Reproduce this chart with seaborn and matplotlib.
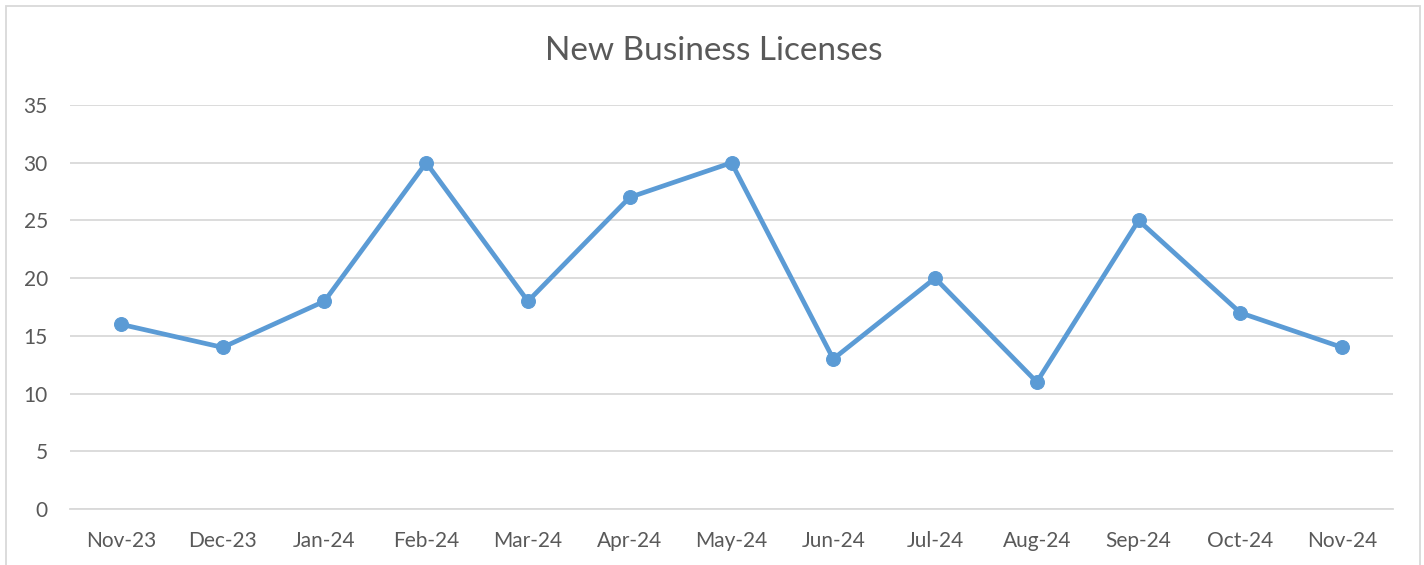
import matplotlib
matplotlib.use('Agg')
import matplotlib.pyplot as plt
import seaborn as sns
import pandas as pd
from matplotlib.patches import Rectangle

months = ['Nov-23', 'Dec-23', 'Jan-24', 'Feb-24', 'Mar-24', 'Apr-24', 'May-24',
          'Jun-24', 'Jul-24', 'Aug-24', 'Sep-24', 'Oct-24', 'Nov-24']
licenses = [16, 14, 18, 30, 18, 27, 30, 13, 20, 11, 25, 17, 14]
y_ticks = [0, 5, 10, 15, 20, 25, 30, 35]

df = pd.DataFrame({'Month': months, 'Licenses': licenses})
df['pos'] = range(len(months))

sns.set_style('white')
plt.rcParams['font.family'] = ['Lato', 'DejaVu Sans']

text_c = '#595959'
grid_c = '#D9D9D9'
line_c = '#5B9BD5'

fig = plt.figure(figsize=(14.24, 5.65), dpi=100)
ax = fig.add_axes([70 / 1424, 1 - 509 / 565, (1393 - 70) / 1424, (509 - 105) / 565])

sns.lineplot(data=df, x='pos', y='Licenses', ax=ax, color=line_c, linewidth=3.4,
             marker='o', markersize=10, markeredgecolor=line_c, markerfacecolor=line_c)

ax.set_xlim(-0.5, len(months) - 0.5)
ax.set_ylim(0, 35)
ax.set_yticks(y_ticks)
ax.set_yticklabels([str(v) for v in y_ticks], color=text_c, fontsize=15)
ax.set_xticks(range(len(months)))
ax.set_xticklabels(months, color=text_c, fontsize=15)
ax.set_xticks([i - 0.5 for i in range(len(months) + 1)], minor=True)
ax.tick_params(axis='x', which='major', length=0, pad=16)
ax.tick_params(axis='x', which='minor', length=7, color=grid_c, width=1.3)
ax.tick_params(axis='y', length=0, pad=16)
ax.set_xlabel('')
ax.set_ylabel('')
ax.grid(axis='y', color=grid_c, linewidth=1.3)
ax.set_axisbelow(True)
for s in ['top', 'right', 'left']:
    ax.spines[s].set_visible(False)
ax.spines['bottom'].set_color(grid_c)
ax.spines['bottom'].set_linewidth(1.3)

fig.text(714 / 1424, 1 - 51 / 565, 'New Business Licenses', ha='center', va='center',
         fontsize=24, color=text_c)

fig.patches.append(Rectangle((6 / 1424, -0.05), (1420 - 6) / 1424, 1 - 6 / 565 + 0.05,
                             transform=fig.transFigure, fill=False, edgecolor=grid_c,
                             linewidth=1.3))

fig.savefig('out.png', dpi=100, facecolor='white')
